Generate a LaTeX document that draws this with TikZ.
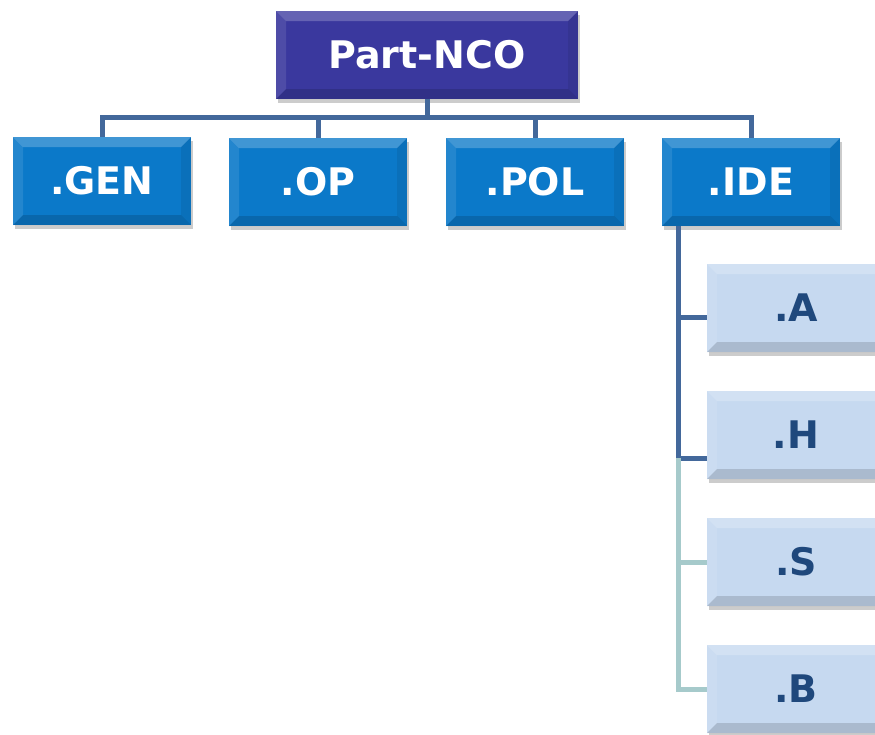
\documentclass[tikz,border=0pt]{standalone}
\usepackage{fontspec}
\setmainfont{DejaVu Sans}
\usepackage{tikz}
\usetikzlibrary{shadows}
\usetikzlibrary{calc}
\definecolor{chiefblue}{HTML}{3A389E}
\definecolor{unitblue}{HTML}{0B79C9}
\definecolor{paleblue}{HTML}{C6D9F0}
\definecolor{paletext}{HTML}{1F487C}
\definecolor{linkblue}{HTML}{43689B}
\definecolor{linkteal}{HTML}{A6CACB}
\tikzstyle{bevel}=[path picture={
    \fill[white,opacity=0.22] (path picture bounding box.north west) -- (path picture bounding box.north east)
        -- ++(-10pt,-10pt) -- ($(path picture bounding box.north west)+(10pt,-10pt)$) -- cycle;
    \fill[white,opacity=0.10] (path picture bounding box.north west) -- (path picture bounding box.south west)
        -- ++(10pt,10pt) -- ($(path picture bounding box.north west)+(10pt,-10pt)$) -- cycle;
    \fill[black,opacity=0.14] (path picture bounding box.south west) -- (path picture bounding box.south east)
        -- ++(-10pt,10pt) -- ($(path picture bounding box.south west)+(10pt,10pt)$) -- cycle;
    \fill[black,opacity=0.07] (path picture bounding box.north east) -- (path picture bounding box.south east)
        -- ++(-10pt,10pt) -- ($(path picture bounding box.north east)+(-10pt,-10pt)$) -- cycle;}]
\tikzstyle{box}=[rectangle,minimum height=88pt,inner sep=0pt,bevel,
    font=\fontsize{38}{42}\selectfont\bfseries,
    drop shadow={shadow xshift=2pt,shadow yshift=-4pt,opacity=0.2,fill=black}]
\tikzstyle{chief}=[box,fill=chiefblue,text=white,minimum width=302pt]
\tikzstyle{unit}=[box,fill=unitblue,text=white,minimum width=178pt]
\tikzstyle{sub}=[box,fill=paleblue,text=paletext,minimum width=178pt]
\tikzstyle{link}=[draw,linkblue,line width=5pt]
\tikzstyle{palelink}=[draw,linkteal,line width=5pt]

\begin{document}
\begin{tikzpicture}[x=1pt,y=-1pt]
    \useasboundingbox (0,0) rectangle (875,734);
    % First we draw the boxes
    \node[chief] (top) at (427,55) {Part-NCO};

    \foreach \pos/ \name in {{(102,181)/GEN},{(318,182)/OP},{(535,182)/POL},{(751,182)/IDE}}
        \node[unit] (\name) at \pos {.\name};

    \foreach \pos/ \name in {{(796,308)/A},{(796,435)/H},{(796,562)/S},{(796,689)/B}}
        \node[sub] (\name) at \pos {.\name};

    % Connect the top box with the units
    \coordinate (bar) at ($(top.south)+(0,18)$);
    \foreach \name in {GEN,OP,POL,IDE}
        \path[link] (top.south) -- (bar) -| (\name.north);

    % Then the column under .IDE
    \coordinate (trunk) at ($(IDE.south west)+(17,0)$);
    \coordinate (joint) at ($(trunk |- H.west)+(0,23)$);
    \path[link] (trunk) |- ($(A.west)+(0,9)$);
    \path[link] (trunk) -- (joint) -- (joint -| H.west);
    \foreach \name in {S,B}
        \path[palelink] (joint) |- (\name.west);
\end{tikzpicture}
\end{document}
